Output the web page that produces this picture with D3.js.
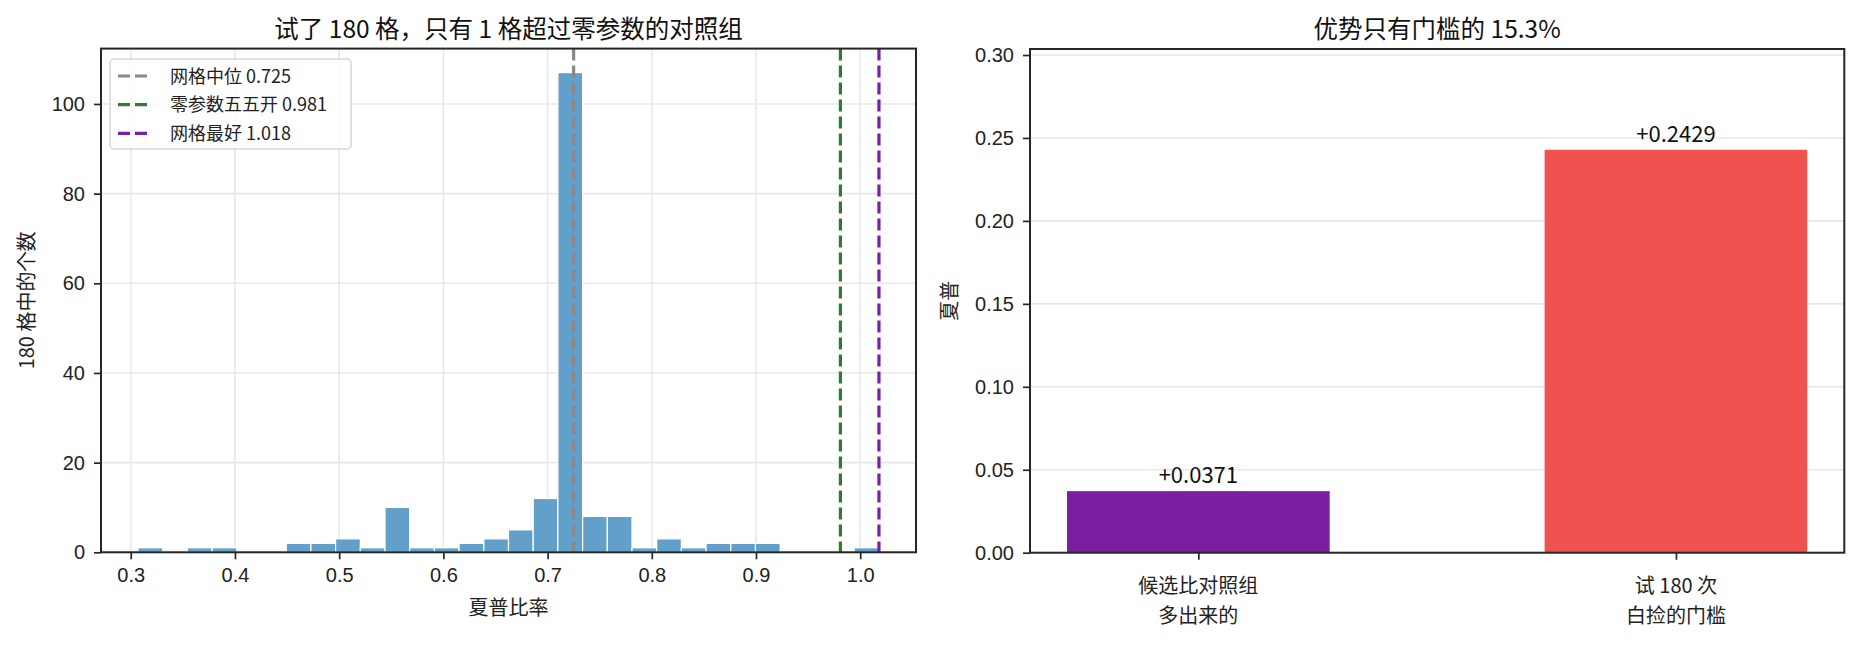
<!DOCTYPE html>
<html>
<head>
<meta charset="utf-8">
<script src="https://cdn.jsdelivr.net/npm/d3@7/dist/d3.min.js"></script>
<style>
  body { margin: 0; background: #fff; }
  svg { display: block; font-family: "Noto Sans CJK JP", "Noto Sans CJK SC", sans-serif; }
  .tick line { stroke: #262626; stroke-width: 1.7; }
  .tick text { fill: #222; font-size: 20px; }
  .grid-line { stroke: #e8e8e8; stroke-width: 1.6; }
  .frame { fill: none; stroke: #262626; stroke-width: 2; }
</style>
</head>
<body>
<svg width="1860" height="645"></svg>
<script>
// ---- data ----
var histMin = 0.307, histMax = 1.018;
var binCounts = [1, 0, 1, 1, 0, 0, 2, 2, 3, 1,
                 10, 1, 1, 2, 3, 5, 12, 107, 8, 8,
                 1, 3, 1, 2, 2, 2, 0, 0, 0, 1];
var lineLabels = ["网格中位 0.725", "零参数五五开 0.981", "网格最好 1.018"];
var lineValues = [0.725, 0.981, 1.018];
var xTicksL = [0.3, 0.4, 0.5, 0.6, 0.7, 0.8, 0.9, 1.0];
var yTicksL = [0, 20, 40, 60, 80, 100];

var barCats = ["候选比对照组\n多出来的", "试 180 次\n白捡的门槛"];
var barValues = [0.0371, 0.2429];
var yTicksR = [0, 0.05, 0.10, 0.15, 0.20, 0.25, 0.30];

// styles
var lineColors = ["#888888", "#2e7d32", "#7b1fa2"];
var barColors = ["#7b1fa2", "#ef5350"];

var svg = d3.select("svg");

// ---------- left panel: histogram ----------
var L = {x0: 101, x1: 916, y0: 48.6, y1: 552.3};
var nBins = binCounts.length,
    binW = (histMax - histMin) / nBins;
var lo = histMin, hi = d3.max([histMax].concat(lineValues)), pad = (hi - lo) * 0.05;

var xL = d3.scaleLinear().domain([lo - pad, hi + pad]).range([L.x0, L.x1]);
var yL = d3.scaleLinear().domain([0, d3.max(binCounts) * 1.05]).range([L.y1, L.y0]);

var gL = svg.append("g");

// grid
gL.selectAll(".gx").data(xTicksL).enter().append("line")
    .attr("class", "grid-line")
    .attr("x1", function(d) { return xL(d); }).attr("x2", function(d) { return xL(d); })
    .attr("y1", L.y0).attr("y2", L.y1);
gL.selectAll(".gy").data(yTicksL).enter().append("line")
    .attr("class", "grid-line")
    .attr("x1", L.x0).attr("x2", L.x1)
    .attr("y1", function(d) { return yL(d); }).attr("y2", function(d) { return yL(d); });

// bars (empty bins skipped)
var bins = binCounts.map(function(c, i) {
    return {a: histMin + i * binW, b: histMin + (i + 1) * binW, n: c};
}).filter(function(d) { return d.n > 0; });

gL.selectAll(".hbar").data(bins).enter().append("rect")
    .attr("class", "hbar")
    .attr("x", function(d) { return xL(d.a); })
    .attr("width", function(d) { return xL(d.b) - xL(d.a); })
    .attr("y", function(d) { return yL(d.n); })
    .attr("height", function(d) { return yL(0) - yL(d.n); })
    .attr("fill", "#62a0ca")
    .attr("stroke", "#fff")
    .attr("stroke-width", 1.2);

// reference lines
gL.selectAll(".vline").data(lineValues).enter().append("line")
    .attr("x1", function(d) { return xL(d); }).attr("x2", function(d) { return xL(d); })
    .attr("y1", L.y0).attr("y2", L.y1)
    .attr("stroke", function(d, i) { return lineColors[i]; })
    .attr("stroke-width", 3.2)
    .attr("stroke-dasharray", "12,5");

// axes
gL.append("g").attr("transform", "translate(0," + L.y1 + ")")
    .call(d3.axisBottom(xL).tickValues(xTicksL).tickFormat(d3.format(".1f")).tickSize(7).tickPadding(9))
    .call(function(g) { g.select(".domain").remove(); })
    .selectAll("text").attr("font-family", null).attr("font-size", null);
gL.append("g").attr("transform", "translate(" + L.x0 + ",0)")
    .call(d3.axisLeft(yL).tickValues(yTicksL).tickSize(7).tickPadding(9))
    .call(function(g) { g.select(".domain").remove(); })
    .selectAll("text").attr("font-family", null).attr("font-size", null);

gL.append("rect").attr("class", "frame")
    .attr("x", L.x0).attr("y", L.y0).attr("width", L.x1 - L.x0).attr("height", L.y1 - L.y0);

// legend
var leg = gL.append("g").attr("transform", "translate(110,59)");
leg.append("rect").attr("width", 241).attr("height", 90).attr("rx", 4)
    .attr("fill", "#fff").attr("fill-opacity", 0.8)
    .attr("stroke", "#d6d6d6").attr("stroke-width", 1.5);
lineLabels.forEach(function(t, i) {
    var cy = 17 + i * 28.7;
    leg.append("line").attr("x1", 8).attr("x2", 42).attr("y1", cy).attr("y2", cy)
        .attr("stroke", lineColors[i]).attr("stroke-width", 3.2).attr("stroke-dasharray", "12,5");
    leg.append("text").attr("x", 60).attr("y", cy + 6.5)
        .attr("font-size", 18).attr("fill", "#222").text(t);
});

// titles / labels
gL.append("text").attr("x", (L.x0 + L.x1) / 2).attr("y", 37.5)
    .attr("text-anchor", "middle").attr("font-size", 24.5).attr("fill", "#111")
    .text("试了 180 格，只有 1 格超过零参数的对照组");
gL.append("text").attr("x", (L.x0 + L.x1) / 2).attr("y", 614.5)
    .attr("text-anchor", "middle").attr("font-size", 20).attr("fill", "#222")
    .text("夏普比率");
gL.append("text").attr("transform", "translate(33.6," + (L.y0 + L.y1) / 2 + ") rotate(-90)")
    .attr("text-anchor", "middle").attr("font-size", 20).attr("fill", "#222")
    .text("180 格中的个数");

// ---------- right panel: bars ----------
var R = {x0: 1030, x1: 1844.3, y0: 49, y1: 552.7};
var bw = 0.55, span = barValues.length - 1 + bw;
var xR = d3.scaleLinear()
    .domain([-bw / 2 - span * 0.05, barValues.length - 1 + bw / 2 + span * 0.05])
    .range([R.x0, R.x1]);
var yR = d3.scaleLinear().domain([0, d3.max(barValues) * 1.25]).range([R.y1, R.y0]);

var gR = svg.append("g");

gR.selectAll(".gy").data(yTicksR).enter().append("line")
    .attr("class", "grid-line")
    .attr("x1", R.x0).attr("x2", R.x1)
    .attr("y1", function(d) { return yR(d); }).attr("y2", function(d) { return yR(d); });

gR.selectAll(".bar").data(barValues).enter().append("rect")
    .attr("x", function(d, i) { return xR(i - bw / 2); })
    .attr("width", function(d, i) { return xR(i + bw / 2) - xR(i - bw / 2); })
    .attr("y", function(d) { return yR(d); })
    .attr("height", function(d) { return yR(0) - yR(d); })
    .attr("fill", function(d, i) { return barColors[i]; });

gR.selectAll(".blabel").data(barValues).enter().append("text")
    .attr("x", function(d, i) { return xR(i); })
    .attr("y", function(d) { return yR(d) - 8; })
    .attr("text-anchor", "middle").attr("font-size", 22).attr("fill", "#111")
    .text(function(d) { return "+" + d.toFixed(4); });

// axes
gR.append("g").attr("transform", "translate(0," + R.y1 + ")")
    .call(d3.axisBottom(xR).tickValues(d3.range(barCats.length)).tickFormat("").tickSize(7))
    .call(function(g) { g.select(".domain").remove(); });
barCats.forEach(function(c, i) {
    c.split("\n").forEach(function(line, j) {
        gR.append("text").attr("x", xR(i)).attr("y", 592.6 + j * 30)
            .attr("text-anchor", "middle").attr("font-size", 20).attr("fill", "#222")
            .text(line);
    });
});
gR.append("g").attr("transform", "translate(" + R.x0 + ",0)")
    .call(d3.axisLeft(yR).tickValues(yTicksR).tickFormat(d3.format(".2f")).tickSize(7).tickPadding(9))
    .call(function(g) { g.select(".domain").remove(); })
    .selectAll("text").attr("font-family", null).attr("font-size", null);

gR.append("rect").attr("class", "frame")
    .attr("x", R.x0).attr("y", R.y0).attr("width", R.x1 - R.x0).attr("height", R.y1 - R.y0);

gR.append("text").attr("x", (R.x0 + R.x1) / 2).attr("y", 37.5)
    .attr("text-anchor", "middle").attr("font-size", 24.5).attr("fill", "#111")
    .text("优势只有门槛的 15.3%");
gR.append("text").attr("transform", "translate(956.6," + (R.y0 + R.y1) / 2 + ") rotate(-90)")
    .attr("text-anchor", "middle").attr("font-size", 20).attr("fill", "#222")
    .text("夏普");
</script>
</body>
</html>
